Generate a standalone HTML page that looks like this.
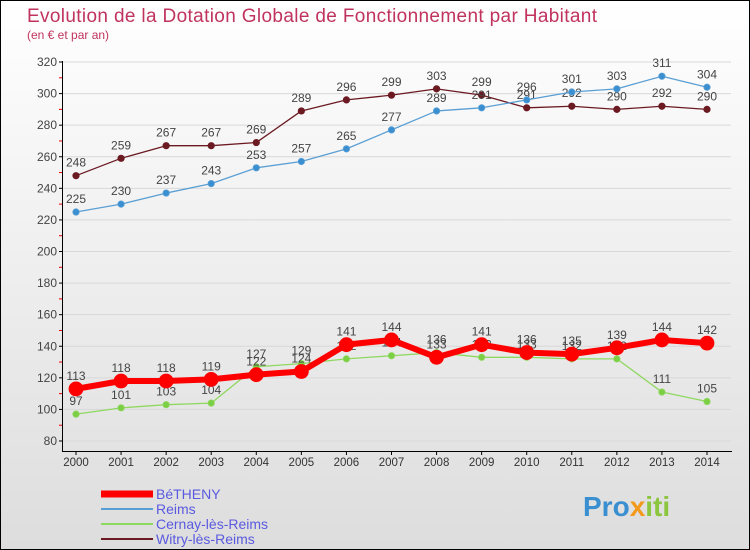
<!DOCTYPE html>
<html><head><meta charset="utf-8"><style>
html,body{margin:0;padding:0}
body{width:750px;height:550px;overflow:hidden;font-family:"Liberation Sans",sans-serif}
#wrap{position:relative;width:748px;height:548px;border:1px solid #000;background:linear-gradient(#fff,#ddd)}
</style></head><body>
<div id="wrap">
<svg id="chart" width="748" height="548" style="position:absolute;left:0;top:0">
<text x="26" y="21" font-size="19" fill="#c0335e" textLength="570">Evolution de la Dotation Globale de Fonctionnement par Habitant</text>
<text x="26" y="38" font-size="12" fill="#c0335e">(en € et par an)</text>
<g id="grid"></g><g id="axes"></g><g id="series"></g><g id="legend"></g>
<text x="582" y="515" font-size="28" font-weight="bold" fill="#3a8fd0">Pro<tspan fill="#f39a1e">x</tspan><tspan fill="#8cc63f">iti</tspan></text>
</svg>
</div>
<script>
const years = [2000,2001,2002,2003,2004,2005,2006,2007,2008,2009,2010,2011,2012,2013,2014];
const yTicks = [80,100,120,140,160,180,200,220,240,260,280,300,320];
const betheny = [113,118,118,119,122,124,141,144,133,141,136,135,139,144,142];
const reims = [225,230,237,243,253,257,265,277,289,291,296,301,303,311,304];
const cernay = [97,101,103,104,127,129,132,134,136,133,133,132,132,111,105];
const witry = [248,259,267,267,269,289,296,299,303,299,291,292,290,292,290];
const seriesNames = ["BéTHENY","Reims","Cernay-lès-Reims","Witry-lès-Reims"];

const NS="http://www.w3.org/2000/svg";
const x = i => 75 + i*(706-75)/(years.length-1);
const y = v => 440 - (v-80)*(440-61)/240;
function mk(tag, attrs, parent){const e=document.createElementNS(NS,tag);for(const k in attrs)e.setAttribute(k,attrs[k]);parent.appendChild(e);return e;}
const grid=document.getElementById('grid'),axes=document.getElementById('axes'),ser=document.getElementById('series'),leg=document.getElementById('legend');

yTicks.forEach((t,k)=>{
  const gl=mk('line',{x1:62,x2:730,y1:y(t),y2:y(t),stroke:'#d8d8d8','stroke-width':1},grid);
  
  
  mk('line',{x1:58,x2:62,y1:y(t),y2:y(t),stroke:'#000'},axes);
  if(k<yTicks.length-1) mk('line',{x1:58,x2:62,y1:y(t+10),y2:y(t+10),stroke:'#e00'},axes);
  const tl=mk('text',{x:56,y:y(t)+4,'font-size':12,fill:'#444','text-anchor':'end'},axes);
  tl.textContent=t;
  
  
});
mk('line',{x1:61.5,x2:61.5,y1:60,y2:450,stroke:'#000'},axes);
mk('line',{x1:61,x2:731,y1:450.5,y2:450.5,stroke:'#000'},axes);
years.forEach((yr,i)=>{
  mk('line',{x1:x(i),x2:x(i),y1:450,y2:454,stroke:'#000'},axes);
  const xl=mk('text',{x:x(i),y:465,'font-size':11.5,fill:'#333','text-anchor':'middle'},axes);
  xl.textContent=yr;
  
  
});

function drawSeries(vals,color,dot,lw,r,name){
  const g=mk('g',{},ser);
  
  
  mk('polyline',{points:vals.map((v,i)=>x(i)+','+y(v)).join(' '),fill:'none',stroke:color,'stroke-width':lw,'stroke-linejoin':'round'},g);
  vals.forEach((v,i)=>{
    const c=mk('circle',{cx:x(i),cy:y(v),r:r,fill:dot,stroke:color,'stroke-width':0.8},g);
    
    
    const t=mk('text',{x:x(i),y:y(v)-9,'font-size':12,fill:'#444','text-anchor':'middle'},g);
    t.textContent=v;
    
    
  });
}
drawSeries(witry,'#6b1a22','#6b1a22',1.3,3.2,'series-witry');
drawSeries(reims,'#5a9fd4','#3a8fd0',1.3,3.2,'series-reims');
drawSeries(cernay,'#8fd860','#7ccf45',1.3,3.2,'series-cernay');
drawSeries(betheny,'#f00','#f00',6,7,'series-betheny');

const lc=[['#f00',7],['#5a9fd4',2],['#8fd860',2],['#6b1a22',2]];
seriesNames.forEach((n,i)=>{
  const ly=493+i*15;
  const g=mk('g',{},leg);
  
  
  mk('line',{x1:100,x2:152,y1:ly,y2:ly,stroke:lc[i][0],'stroke-width':lc[i][1]},g);
  const t=mk('text',{x:155,y:ly+5,'font-size':14,fill:'#5a5ae0'},g);
  t.textContent=n;
});
</script>
</body></html>
